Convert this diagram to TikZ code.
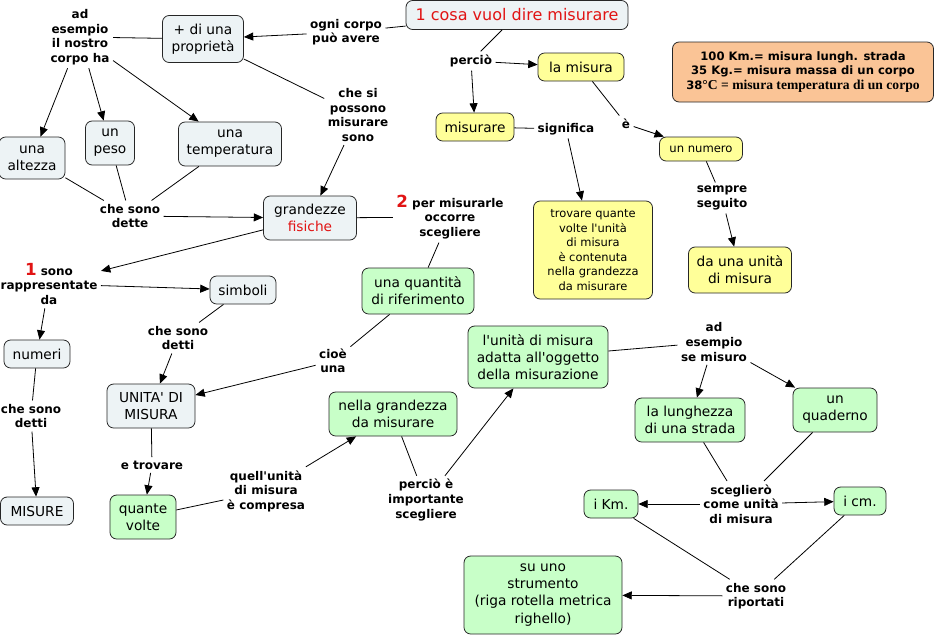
\documentclass[tikz,border=0pt]{standalone}
\usepackage{fontspec}
\setmainfont{DejaVu Sans}
\newfontfamily\serifbf{Liberation Serif}
\usetikzlibrary{arrows.meta}
\definecolor{cgrey}{RGB}{237,243,245}
\definecolor{cgreen}{RGB}{200,255,200}
\definecolor{cyel}{RGB}{255,255,153}
\definecolor{corange}{RGB}{250,196,150}
\definecolor{cred}{RGB}{225,20,20}
\newcommand\ap{\textquotesingle}
\begin{document}
\begin{tikzpicture}[x=0.75pt,y=-0.75pt,
  concept/.style={draw=black!85, rounded corners=5pt, line width=0.6pt, align=center,
    font=\fontsize{10.3}{12.8}\selectfont, inner sep=1pt},
  greybox/.style={concept, fill=cgrey},
  greenbox/.style={concept, fill=cgreen},
  yelbox/.style={concept, fill=cyel},
  lbl/.style={font=\bfseries\fontsize{9}{10.9}\selectfont, align=center, inner sep=2.5pt},
  sz/.style 2 args={minimum width=#1*0.75pt, minimum height=#2*0.75pt},
  ln/.style={line width=0.6pt},
  arr/.style={ln, -{Triangle[length=7pt,width=6pt]}}]
\useasboundingbox (0,0) rectangle (935,636);

% concepts
\node[greybox,sz={222}{29},font=\fontsize{12}{14}\selectfont,text=cred] (top) at (517,15) {1 cosa vuol dire misurare};
\node[greybox,sz={81}{47}] (prop) at (203,39) {+ di una\\proprietà};
\node[greybox,sz={66}{42}] (alt) at (32,158) {una\\altezza};
\node[greybox,sz={49}{44}] (peso) at (110,143) {un\\peso};
\node[greybox,sz={103}{44}] (temp) at (230,144) {una\\temperatura};
\node[greybox,sz={93}{44}] (grand) at (310,218) {grandezze\\\textcolor{cred}{fisiche}};
\node[greybox,sz={66}{28}] (simb) at (243,290) {simboli};
\node[greybox,sz={66}{28}] (num) at (37,354) {numeri};
\node[greybox,sz={88}{44}] (unita) at (151,406) {UNITA\ap{} DI\\MISURA};
\node[greybox,sz={73}{28}] (misure) at (37,511) {MISURE};
\node[greenbox,sz={66}{44}] (quante) at (143,517) {quante\\volte};
\node[greenbox,sz={112}{46}] (quant) at (418,291) {una quantità\\di riferimento};
\node[greenbox,sz={128}{44}] (nella) at (393,414) {nella grandezza\\da misurare};
\node[greenbox,sz={140}{62}] (adatta) at (538,357) {l\ap unità di misura\\adatta all\ap oggetto\\della misurazione};
\node[greenbox,sz={110}{44}] (lungh) at (690,420) {la lunghezza\\di una strada};
\node[greenbox,sz={84}{44}] (quad) at (835,410) {un\\quaderno};
\node[greenbox,sz={54}{28}] (km) at (611,504) {i Km.};
\node[greenbox,sz={52}{28}] (cm) at (860,501) {i cm.};
\node[greenbox,sz={158}{78}] (strum) at (543,595) {su uno\\strumento\\(riga rotella metrica\\righello)};
\node[yelbox,sz={86}{28}] (lamis) at (581,67) {la misura};
\node[yelbox,sz={78}{28}] (misurare) at (475,127) {misurare};
\node[yelbox,sz={83}{24},font=\fontsize{8.7}{11}\selectfont] (numero) at (701,149) {un numero};
\node[yelbox,sz={119}{98},font=\fontsize{8.6}{10.9}\selectfont] (trov) at (593,250) {trovare quante\\volte l\ap unità\\di misura\\è contenuta\\nella grandezza\\da misurare};
\node[yelbox,sz={103}{46}] (daun) at (740,270) {da una unità\\di misura};
\node[concept,fill=corange,sz={261}{60},font=\bfseries\fontsize{8.7}{11.2}\selectfont] (note) at (803,72)
  {100 Km.= misura lungh. strada\\35 Kg.= misura massa di un corpo\\38{\serifbf\fontsize{10.2}{11}\selectfont °C = misura temperatura di un corpo}};

% labels
\node[lbl] (l1) at (80,37) {ad\\esempio\\il nostro\\corpo ha};
\node[lbl] (l2) at (346,32) {ogni corpo\\può avere};
\node[lbl] (l3) at (358,115) {che si\\possono\\misurare\\sono};
\node[lbl] (l4) at (130,216) {che sono\\dette};
\node[lbl] (l5) at (450,217) {{\color{cred}\fontsize{12.5}{12}\selectfont 2} per misurarle\\occorre\\scegliere};
\node[lbl] (l6) at (471,61) {perciò};
\node[lbl] (l7) at (566,129) {significa};
\node[lbl] (l8) at (626,124) {è};
\node[lbl] (l9) at (722,198) {sempre\\seguito};
\node[lbl] (l10) at (49,284) {{\color{cred}\fontsize{12.5}{12}\selectfont 1} sono\\rappresentate\\da};
\node[lbl] (l11) at (178,338) {che sono\\detti};
\node[lbl] (l12) at (333,361) {cioè\\una};
\node[lbl] (l13) at (31,416) {che sono\\detti};
\node[lbl] (l14) at (152,465) {e trovare};
\node[lbl] (l15) at (266,491) {quell\ap unità\\di misura\\è compresa};
\node[lbl] (l16) at (426,500) {perciò è\\importante\\scegliere};
\node[lbl] (l17) at (714,342) {ad\\esempio\\se misuro};
\node[lbl] (l18) at (741,504) {sceglierò\\come unità\\di misura};
\node[lbl] (l19) at (756,596) {che sono\\riportati};

% connectors
\draw[ln] (top) -- (l2); \draw[arr] (l2) -- (prop);
\draw[ln] (prop) -- (l1);
\draw[arr] (l1) -- (alt); \draw[arr] (l1) -- (peso); \draw[arr] (l1) -- (temp);
\draw[ln] (prop) -- (l3); \draw[arr] (l3) -- (grand);
\draw[ln] (alt) -- (l4); \draw[ln] (peso) -- (l4); \draw[ln] (temp) -- (l4);
\draw[arr] (l4) -- (grand);
\draw[ln] (grand) -- (l5); \draw[ln] (l5) -- (quant);
\draw[arr] (grand) -- (l10);
\draw[arr] (l10) -- (simb); \draw[arr] (l10) -- (num);
\draw[ln] (simb) -- (l11); \draw[arr] (l11) -- (unita);
\draw[ln] (quant) -- (l12); \draw[arr] (l12) -- (unita);
\draw[ln] (num) -- (l13); \draw[arr] (l13) -- (misure);
\draw[ln] (unita) -- (l14); \draw[arr] (l14) -- (quante);
\draw[ln] (quante) -- (l15); \draw[arr] (l15) -- (nella);
\draw[ln] (nella) -- (l16); \draw[arr] (l16) -- (adatta);
\draw[ln] (adatta) -- (l17); \draw[arr] (l17) -- (lungh); \draw[arr] (l17) -- (quad);
\draw[ln] (lungh) -- (l18); \draw[ln] (quad) -- (l18);
\draw[arr] (l18) -- (km); \draw[arr] (l18) -- (cm);
\draw[ln] (km) -- (l19); \draw[ln] (cm) -- (l19); \draw[arr] (l19) -- (strum);
\draw[ln] (top) -- (l6); \draw[arr] (l6) -- (lamis); \draw[arr] (l6) -- (misurare);
\draw[ln] (misurare) -- (l7); \draw[arr] (l7) -- (trov);
\draw[ln] (lamis) -- (l8); \draw[arr] (l8) -- (numero);
\draw[ln] (numero) -- (l9); \draw[arr] (l9) -- (daun);
\end{tikzpicture}
\end{document}
